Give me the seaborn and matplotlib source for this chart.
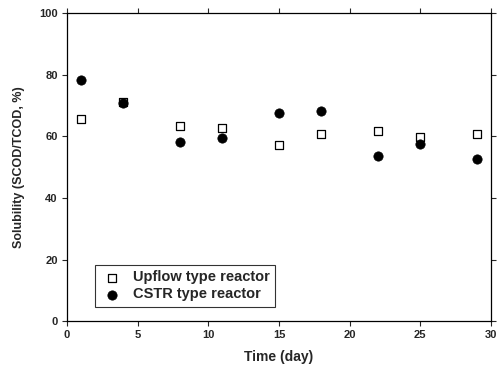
import matplotlib
matplotlib.use("Agg")
import matplotlib.pyplot as plt
import seaborn as sns
import pandas as pd

days = [1, 4, 8, 11, 15, 18, 22, 25, 29]
upflow = [65.5, 71.0, 63.4, 62.6, 57.2, 60.8, 61.7, 59.7, 60.6]
cstr = [78.2, 70.9, 58.2, 59.6, 67.6, 68.2, 53.7, 57.5, 52.8]
series_names = ["Upflow type reactor", "CSTR type reactor"]
x_ticks = [0, 5, 10, 15, 20, 25, 30]
y_ticks = [0, 20, 40, 60, 80, 100]

sns.set_style("ticks")
plt.rcParams['font.family'] = ['Liberation Sans', 'DejaVu Sans']
plt.rcParams['font.weight'] = 'bold'

df = pd.DataFrame({
    "day": days * 2,
    "val": upflow + cstr,
    "series": [series_names[0]] * len(days) + [series_names[1]] * len(days),
})

fig = plt.figure(figsize=(4.99, 3.76), dpi=100)
ax = fig.add_axes([0.134, 0.146, 0.850, 0.819])

sns.scatterplot(data=df[df.series == series_names[0]], x="day", y="val", ax=ax,
                marker="s", s=28, facecolor="white", edgecolor="black", linewidth=0.9,
                label=series_names[0])
sns.scatterplot(data=df[df.series == series_names[1]], x="day", y="val", ax=ax,
                marker="o", s=45, color="black", edgecolor="black", linewidth=0.5,
                label=series_names[1])

ax.set_xlim(0, 30)
ax.set_ylim(0, 100)
ax.set_xticks(x_ticks)
ax.set_yticks(y_ticks)
ax.tick_params(axis="both", which="both", direction="out", length=3.5, width=0.8,
               labelsize=8, top=True, right=True, pad=3)
for lab in ax.get_xticklabels() + ax.get_yticklabels():
    lab.set_fontweight("bold")
for sp in ax.spines.values():
    sp.set_visible(True)
    sp.set_linewidth(0.9)
    sp.set_color("black")

ax.set_xlabel("Time (day)", fontsize=10, fontweight="bold", labelpad=7)
ax.set_ylabel("Solubility (SCOD/TCOD, %)", fontsize=9, fontweight="bold", labelpad=10)

leg = ax.legend(loc="lower left", bbox_to_anchor=(0.066, 0.045), borderaxespad=0,
                frameon=True, fancybox=False, edgecolor="black",
                prop={"weight": "bold", "size": 10.5}, handletextpad=0.6,
                borderpad=0.4, labelspacing=0.2, handlelength=1.6)
leg.get_frame().set_linewidth(0.8)

fig.savefig("out.png", dpi=100)
